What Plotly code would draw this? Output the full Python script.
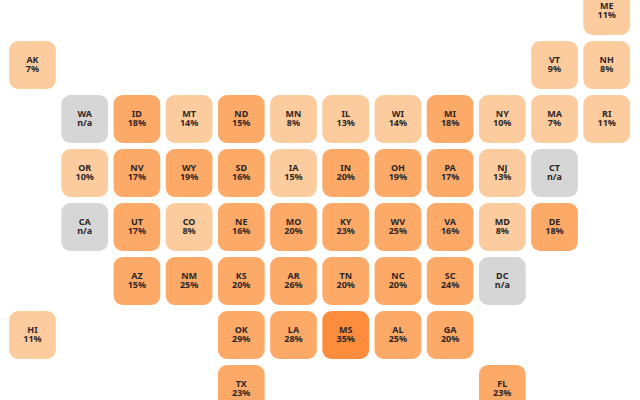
import plotly.graph_objects as go

states = ["ME","AK","VT","NH","WA","ID","MT","ND","MN","IL","WI","MI","NY","MA","RI",
          "OR","NV","WY","SD","IA","IN","OH","PA","NJ","CT",
          "CA","UT","CO","NE","MO","KY","WV","VA","MD","DE",
          "AZ","NM","KS","AR","TN","NC","SC","DC",
          "HI","OK","LA","MS","AL","GA","TX","FL"]
cols = [11,0,10,11,1,2,3,4,5,6,7,8,9,10,11,
        1,2,3,4,5,6,7,8,9,10,
        1,2,3,4,5,6,7,8,9,10,
        2,3,4,5,6,7,8,9,
        0,4,5,6,7,8,4,9]
rows = [0,1,1,1,2,2,2,2,2,2,2,2,2,2,2,
        3,3,3,3,3,3,3,3,3,3,
        4,4,4,4,4,4,4,4,4,4,
        5,5,5,5,5,5,5,5,
        6,6,6,6,6,6,7,7]
labels = ["11%","7%","9%","8%","n/a","18%","14%","15%","8%","13%","14%","18%","10%","7%","11%",
          "10%","17%","19%","16%","15%","20%","19%","17%","13%","n/a",
          "n/a","17%","8%","16%","20%","23%","25%","16%","8%","18%",
          "15%","25%","20%","26%","20%","20%","24%","n/a",
          "11%","29%","28%","35%","25%","20%","23%","23%"]
# 0 = no data, 1 = light, 2 = mid, 3 = dark
bins = [1,1,1,1,0,2,1,2,1,1,1,2,1,1,1,
        1,2,2,2,1,2,2,2,1,0,
        0,2,1,2,2,2,2,2,1,2,
        2,2,2,2,2,2,2,0,
        1,2,2,3,2,2,2,2]
palette = {0: "#d6d6d6", 1: "#fdcc9e", 2: "#fdaa69", 3: "#fd8d3c"}

TILE_W, TILE_H = 0.895, 0.885
LINE_OFFSET = 0.082
FONT = dict(family="Noto Sans", size=9, color="#2e2626", weight=700)
fig = go.Figure()
fig.add_bar(
    x=cols, y=[TILE_H] * len(rows), base=[r - TILE_H / 2 for r in rows],
    width=TILE_W, marker=dict(color=[palette[b] for b in bins], cornerradius=9, line_width=0),
    hoverinfo="skip",
)
fig.add_scatter(
    x=cols, y=[r - LINE_OFFSET for r in rows], mode="text",
    text=states, textposition="middle center",
    textfont=FONT, hoverinfo="skip", cliponaxis=False,
)
fig.add_scatter(
    x=cols, y=[r + LINE_OFFSET for r in rows], mode="text",
    text=labels, textposition="middle center",
    textfont=FONT, hoverinfo="skip", cliponaxis=False,
)
fig.update_layout(
    width=640, height=400, margin=dict(l=0, r=0, t=0, b=0),
    paper_bgcolor="white", plot_bgcolor="white", showlegend=False,
    xaxis=dict(range=[-32.5 / 52.2, (640 - 32.5) / 52.2], visible=False),
    yaxis=dict(range=[(400 - 11) / 54, -11 / 54], visible=False),
)
fig.write_html("out.html", config={"displayModeBar": False},
               post_script="document.body.style.margin='0';document.documentElement.style.overflow='hidden';")
